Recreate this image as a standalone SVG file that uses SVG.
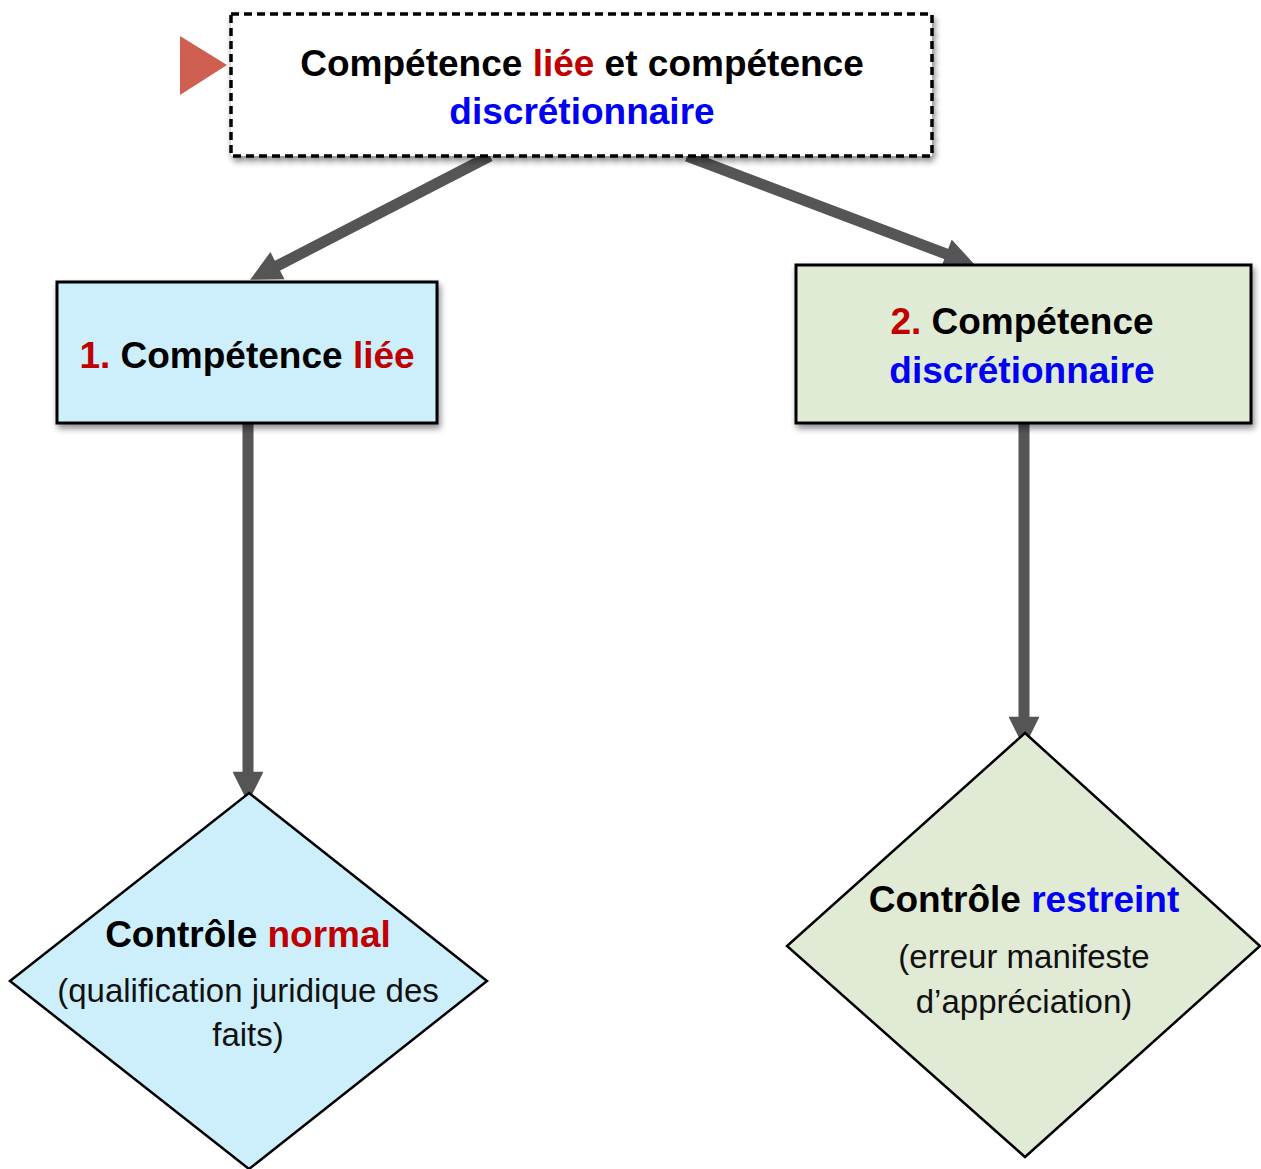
<svg xmlns="http://www.w3.org/2000/svg" width="1261" height="1169" viewBox="0 0 1261 1169">
<style>
text{font-family:"Liberation Sans",Arial,sans-serif;text-anchor:middle;}
.b{font-weight:bold;font-size:37px;fill:#000;}
.r{font-size:33px;fill:#111;}
.red{fill:#c00000;}
.blue{fill:#0000f5;}
.box{stroke:#000;stroke-width:3;}
.dia{stroke:#000;stroke-width:2.5;}
.conn{stroke:#555;stroke-width:11;fill:none;marker-end:url(#ah);}
</style>
<defs>
<marker id="ah" viewBox="0 0 10 10" refX="2" refY="5" markerWidth="2.9" markerHeight="2.8" orient="auto" markerUnits="strokeWidth">
<path d="M0,0 L10,5 L0,10 z" fill="#555"/>
</marker>
<filter id="sh" x="-10%" y="-10%" width="120%" height="130%">
<feDropShadow dx="2" dy="4" stdDeviation="3" flood-color="#000" flood-opacity="0.45"/>
</filter>
</defs>
<rect width="1261" height="1169" fill="#fff"/>
<g id="connectors">
<line class="conn" x1="490" y1="156" x2="272" y2="268.5"/>
<line class="conn" x1="687" y1="156" x2="952" y2="256.2"/>
<line class="conn" x1="248" y1="424" x2="248" y2="778"/>
<line class="conn" x1="1024" y1="420" x2="1024" y2="723"/>
</g>
<g id="title">
<path d="M180,36 L227,65 L180,95 z" fill="#cf5f50"/>
<rect x="231" y="14" width="701" height="142" fill="#fff" stroke="#000" stroke-width="3.5" stroke-dasharray="8,5" filter="url(#sh)"/>
<text class="b" x="582" y="76">Compétence <tspan class="red">liée</tspan> et compétence</text>
<text class="b blue" x="582" y="124">discrétionnaire</text>
</g>
<g id="box1">
<rect class="box" x="57" y="282" width="380" height="141" fill="#cdeefb" filter="url(#sh)"/>
<text class="b" x="247" y="368"><tspan class="red">1.</tspan> Compétence <tspan class="red">liée</tspan></text>
</g>
<g id="box2">
<rect class="box" x="796" y="265" width="455" height="158" fill="#e0ebd6" filter="url(#sh)"/>
<text class="b" x="1022" y="334"><tspan class="red">2.</tspan> Compétence</text>
<text class="b blue" x="1022" y="383">discrétionnaire</text>
</g>
<g id="diamond1">
<path class="dia" d="M249,793 L487,981 L249,1169 L10,981 z" fill="#cdeffc"/>
<text class="b" x="248" y="947">Contrôle <tspan class="red">normal</tspan></text>
<text class="r" x="248" y="1002">(qualification juridique des</text>
<text class="r" x="248" y="1046">faits)</text>
</g>
<g id="diamond2">
<path class="dia" d="M1025,733 L1260,946 L1025,1157 L787,946 z" fill="#e0ead5"/>
<text class="b" x="1024" y="912">Contrôle <tspan class="blue">restreint</tspan></text>
<text class="r" x="1024" y="968">(erreur manifeste</text>
<text class="r" x="1024" y="1013">d’appréciation)</text>
</g>
</svg>
